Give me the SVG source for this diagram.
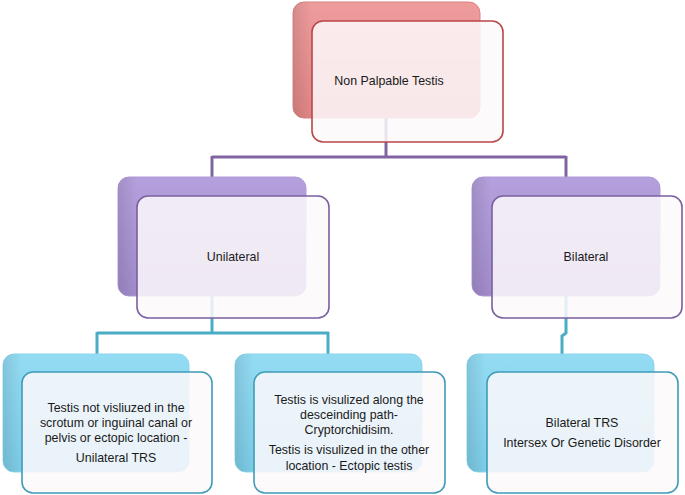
<svg xmlns="http://www.w3.org/2000/svg" width="685" height="495" viewBox="0 0 685 495">
<defs>
<linearGradient id="gRed" x1="0" y1="0" x2="0" y2="1">
<stop offset="0" stop-color="#ee9c9c"/><stop offset="1" stop-color="#e08585"/>
</linearGradient>
<linearGradient id="gPur" x1="0" y1="0" x2="0" y2="1">
<stop offset="0" stop-color="#b4a0dc"/><stop offset="1" stop-color="#a18bcb"/>
</linearGradient>
<linearGradient id="gBlu" x1="0" y1="0" x2="0" y2="1">
<stop offset="0" stop-color="#93dcf3"/><stop offset="1" stop-color="#7ccbe6"/>
</linearGradient>
<linearGradient id="gEdge" x1="0" y1="0" x2="1" y2="0">
<stop offset="0" stop-color="#000" stop-opacity="0.1"/><stop offset="0.1" stop-color="#000" stop-opacity="0"/>
</linearGradient>
</defs>
<style>
.t{font-family:"Liberation Sans",Arial,sans-serif;font-size:12.4px;fill:#1a1a1a;text-anchor:middle}
.front{fill:#fdf9fc;fill-opacity:0.85;stroke-width:1.6}
.r .front{stroke:#b9474a}
.p .front{stroke:#7a5fa0}
.b .front{stroke:#3f9bb8}
.back{stroke-width:1}
.r .back{fill:url(#gRed);stroke:#d98383}
.p .back{fill:url(#gPur);stroke:#b09ad8}
.b .back{fill:url(#gBlu);stroke:#8dd6ee}
.edge{fill:url(#gEdge)}
.cp{fill:none;stroke:#8064a2;stroke-width:3}
.cb{fill:none;stroke:#4bacc6;stroke-width:3}
</style>
<g id="connectors">
<path class="cp" d="M386,118 V157 M212,157 H566 M212,156 V178 M566,156 V178"/>
<path class="cb" d="M212,296 V333 M97,333 H329 M97,332 V354 M328,332 V354 M566,296 V333 L562,336 V354"/>
</g>
<g id="n-top" class="r">
<rect class="back" x="293" y="2" width="187" height="116" rx="11"/>
<rect class="edge" x="293" y="2" width="187" height="116" rx="11"/>
<rect class="front" x="312" y="21" width="191" height="121" rx="11"/>
<text class="t" x="389" y="85">Non Palpable Testis</text>
</g>
<g id="n-unilateral" class="p">
<rect class="back" x="118" y="177" width="188" height="119" rx="11"/>
<rect class="edge" x="118" y="177" width="188" height="119" rx="11"/>
<rect class="front" x="137" y="196" width="192" height="122" rx="11"/>
<text class="t" x="233" y="261">Unilateral</text>
</g>
<g id="n-bilateral" class="p">
<rect class="back" x="472" y="177" width="188" height="119" rx="11"/>
<rect class="edge" x="472" y="177" width="188" height="119" rx="11"/>
<rect class="front" x="492" y="196" width="190" height="122" rx="11"/>
<text class="t" x="586" y="261">Bilateral</text>
</g>
<g id="n-trs" class="b">
<rect class="back" x="3" y="354" width="186" height="118" rx="11"/>
<rect class="edge" x="3" y="354" width="186" height="118" rx="11"/>
<rect class="front" x="22" y="372" width="190" height="121" rx="11"/>
<text class="t" x="116" y="412">Testis not visliuzed in the</text>
<text class="t" x="116" y="427">scrotum or inguinal canal or</text>
<text class="t" x="116" y="442">pelvis or ectopic location -</text>
<text class="t" x="116" y="462">Unilateral TRS</text>
</g>
<g id="n-crypt" class="b">
<rect class="back" x="235" y="354" width="187" height="118" rx="11"/>
<rect class="edge" x="235" y="354" width="187" height="118" rx="11"/>
<rect class="front" x="254" y="372" width="191" height="121" rx="11"/>
<text class="t" x="349" y="404">Testis is visulized along the</text>
<text class="t" x="349" y="419">desceinding path-</text>
<text class="t" x="349" y="434">Cryptorchidisim.</text>
<text class="t" x="349" y="454">Testis is visulized in the other</text>
<text class="t" x="349" y="470">location - Ectopic testis</text>
</g>
<g id="n-bitrs" class="b">
<rect class="back" x="467" y="354" width="187" height="118" rx="11"/>
<rect class="edge" x="467" y="354" width="187" height="118" rx="11"/>
<rect class="front" x="487" y="372" width="191" height="121" rx="11"/>
<text class="t" x="582" y="427">Bilateral TRS</text>
<text class="t" x="582" y="447">Intersex Or Genetic Disorder</text>
</g>
</svg>
